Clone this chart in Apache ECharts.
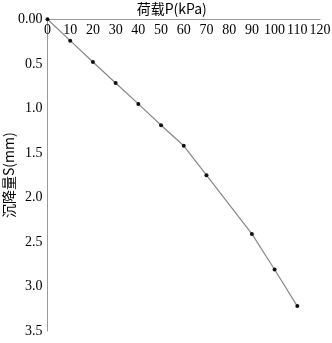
<!DOCTYPE html>
<html>
<head>
<meta charset="utf-8">
<script src="https://cdn.jsdelivr.net/npm/echarts@6/dist/echarts.min.js"></script>
<style>html,body{margin:0;padding:0;background:#fff;}#c{width:332px;height:343px;}</style>
</head>
<body>
<div id="c"></div>
<script>
var loads = [0, 10, 20, 30, 40, 50, 60, 70, 90, 100, 110];
var settlements = [0, 0.24, 0.48, 0.715, 0.95, 1.19, 1.42, 1.75, 2.41, 2.81, 3.22];
var xTitle = '荷载P(kPa)';
var yTitle = '沉降量S(mm)';

var chart = echarts.init(document.getElementById('c'));
var data = loads.map(function (p, i) { return [p, settlements[i]]; });
var serif = 'Liberation Serif';
chart.setOption({
  animation: false,
  backgroundColor: '#fff',
  grid: { left: 47.5, right: 12, top: 19.3, bottom: 12, containLabel: false, outerBoundsMode: 'none' },
  xAxis: {
    type: 'value', position: 'top', min: 0, max: 120, interval: 10,
    name: xTitle, nameLocation: 'middle', nameGap: 4, nameMoveOverlap: false,
    nameTextStyle: { color: '#000', fontSize: 14, fontFamily: 'Noto Sans CJK SC', padding: [0, 24, 0, 0] },
    axisLine: { show: true, lineStyle: { color: '#999', width: 1 } },
    axisTick: { show: false },
    splitLine: { show: false },
    axisLabel: { inside: true, margin: 4, color: '#000', fontSize: 14, fontFamily: serif, showMaxLabel: true, showMinLabel: true, hideOverlap: false }
  },
  yAxis: {
    type: 'value', inverse: true, min: 0, max: 3.5, interval: 0.5,
    name: yTitle, nameLocation: 'middle', nameGap: 32, nameMoveOverlap: false,
    nameTextStyle: { color: '#000', fontSize: 14, fontFamily: 'Noto Sans CJK SC' },
    axisLine: { show: true, lineStyle: { color: '#999', width: 1 } },
    axisTick: { show: false },
    splitLine: { show: false },
    axisLabel: { margin: 5, color: '#000', fontSize: 14, fontFamily: serif,
      formatter: function (v) { return v === 0 ? '0.00' : v.toFixed(1); } }
  },
  series: [{
    type: 'line', data: data,
    symbol: 'circle', symbolSize: 4,
    itemStyle: { color: '#111' },
    lineStyle: { color: '#888', width: 1.2 }
  }]
});
</script>
</body>
</html>
